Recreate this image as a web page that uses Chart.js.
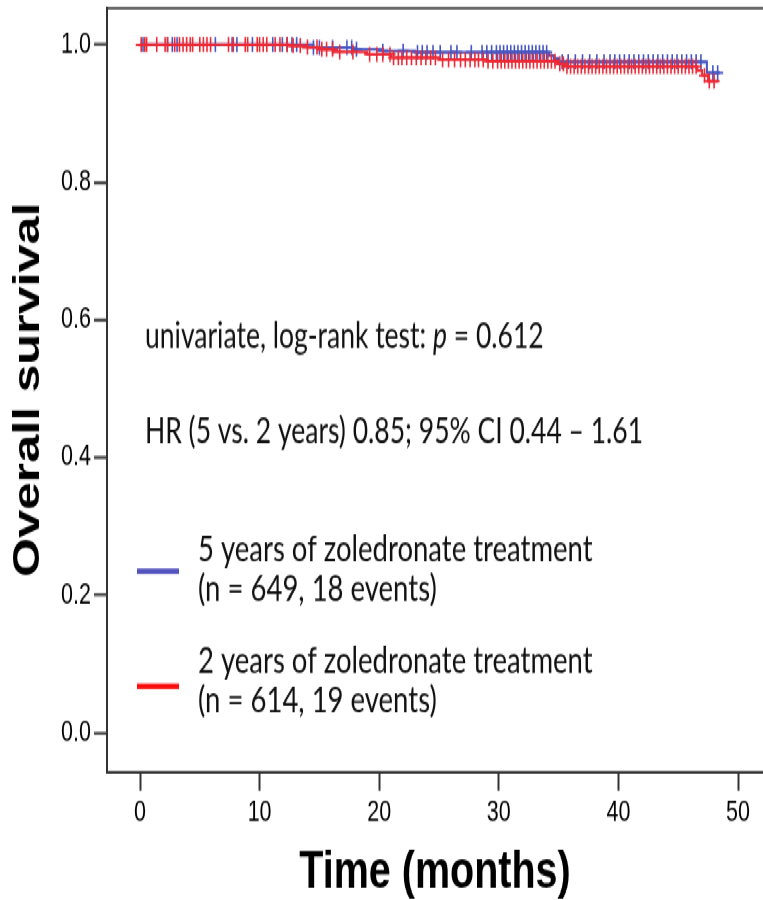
<!DOCTYPE html>
<html>
<head>
<meta charset="utf-8">
<script src="https://cdn.jsdelivr.net/npm/chart.js@4.4.1/dist/chart.umd.min.js"></script>
<style>
  html, body { margin: 0; padding: 0; background: #fff; overflow: hidden; }
  #wrap { position: absolute; left: 0; top: 0; width: 763px; height: 662px;
          transform: scaleY(1.3595); transform-origin: 0 0; background: #fff; }
</style>
</head>
<body>
<div id="wrap"><canvas id="c"></canvas></div>
<script>
// ---- data ----
// 5 years of zoledronate (blue): Kaplan-Meier step points
const blueTimes = [0, 14.5, 17.8, 20.3, 23.0, 34.2, 34.6, 35.0, 47.4, 48.5];
const blueSurv  = [1.0, 0.9955, 0.993, 0.991, 0.989, 0.984, 0.980, 0.975, 0.959, 0.959];
// 2 years of zoledronate (red)
const redTimes = [0, 12.5, 14.0, 15.0, 16.2, 19.0, 21.0, 25.0, 29.0, 34.9, 35.5, 46.6, 47.0, 47.5, 48.3];
const redSurv  = [1.0, 0.9985, 0.996, 0.993, 0.9895, 0.986, 0.981, 0.978, 0.976, 0.972, 0.968, 0.962, 0.955, 0.947, 0.947];
// censoring times (months)
const blueCensor = [0.25, 2.3, 2.7, 3.1, 6.3, 7.7, 8.1, 9.4, 11.1, 11.9, 12.3, 12.7, 13.1, 14.5, 15.0, 16.1, 17.3, 17.7, 18.1, 20.3, 22.0, 23.2,
  23.6, 24.0, 24.5, 25.1, 26.0, 26.5, 27.7, 28.6, 29.0, 29.4, 29.8, 30.1, 30.4, 30.7, 31.0, 31.3, 31.6, 31.9, 32.2, 32.5, 32.8, 33.1, 33.4, 33.7, 34.0,
  35.3, 35.8, 36.4, 37.0, 37.6, 38.2, 38.8, 39.3, 39.7, 40.1, 40.5, 40.9, 41.3, 41.7, 42.1, 42.5, 42.9, 43.3, 43.7, 44.1, 44.5, 44.9, 45.3, 45.7, 46.1, 46.5, 46.9, 47.9, 48.3];
const redCensor = [0.1, 0.4, 0.55, 1.4, 2.1, 2.3, 2.9, 3.3, 3.6, 3.9, 4.2, 4.4, 5.0, 5.3, 5.6, 5.9, 7.4, 7.8, 8.8, 9.0, 9.8, 10.0, 10.3, 10.6, 11.3, 11.7, 12.3, 12.8, 13.4, 14.0,
  14.8, 15.2, 15.6, 16.1, 16.7, 17.8, 19.2, 19.8, 20.3, 20.9, 21.2, 21.6, 21.9, 22.3, 22.7, 23.1, 23.5, 23.9,
  24.3, 24.7, 25.3, 25.8, 26.3, 26.8, 27.2, 27.6, 28.0, 28.3, 28.7, 29.1, 29.5, 29.9, 30.2, 30.5, 30.8, 31.1, 31.4, 31.7, 32.0, 32.3, 32.6, 32.9, 33.2, 33.5, 33.8, 34.1, 34.4, 34.7,
  35.1, 35.4, 35.7, 36.0, 36.3, 36.6, 36.9, 37.2, 37.5, 37.8, 38.1, 38.4, 38.7, 39.0, 39.3, 39.6, 39.9, 40.2, 40.5, 40.8, 41.1, 41.4, 41.7, 42.0, 42.3, 42.6, 42.9, 43.2, 43.5, 43.8,
  44.1, 44.4, 44.7, 45.0, 45.3, 45.6, 45.9, 46.2, 46.5, 47.2, 47.6, 48.0];
const xTicks = [0, 10, 20, 30, 40, 50];
const yTicks = [0.0, 0.2, 0.4, 0.6, 0.8, 1.0];
const seriesLabels = ['5 years of zoledronate treatment', '2 years of zoledronate treatment'];
const seriesNotes = ['(n = 649, 18 events)', '(n = 614, 19 events)'];
const statLine1 = ['univariate, log-rank test: ', 'p', ' = 0.612'];
const statLine2 = 'HR (5 vs. 2 years) 0.85; 95% CI 0.44 \u2013 1.61';

const BLUE = '#4555C2';
const RED = '#EC2A36';
const BLUE_KEY = '#5353BE';
const RED_KEY = '#FA0A0A';

function survAt(times, surv, t) {
  let s = surv[0];
  for (let i = 0; i < times.length; i++) { if (times[i] <= t) s = surv[i]; }
  return s;
}
const pts = (times, surv) => times.map((t, i) => ({ x: t, y: surv[i] }));
const cens = (ct, times, surv) => ct.map(t => ({ x: t, y: survAt(times, surv, t) }));
const noPad = s => { s.paddingTop = 0; s.paddingBottom = 0; s.paddingLeft = 0; s.paddingRight = 0; };

const textPlugin = {
  id: 'texts',
  afterDraw(chart) {
    const ctx = chart.ctx;
    ctx.save();
    ctx.fillStyle = '#111';
    ctx.textBaseline = 'alphabetic';
    ctx.textAlign = 'left';
    const f = '26.5px Lato, "Open Sans", sans-serif';
    const fi = 'italic 26.5px Lato, "Open Sans", sans-serif';
    let x = 145;
    ctx.font = f; ctx.fillText(statLine1[0], x, 256); x += ctx.measureText(statLine1[0]).width;
    ctx.font = fi; ctx.fillText(statLine1[1], x, 256); x += ctx.measureText(statLine1[1]).width;
    ctx.font = f; ctx.fillText(statLine1[2], x, 256);
    ctx.fillText(statLine2, 145, 326);
    // legend
    const keys = [[BLUE_KEY, 420.2, 413, 441.5], [RED_KEY, 504.8, 495, 523.5]];
    keys.forEach((k, i) => {
      ctx.fillStyle = k[0];
      ctx.fillRect(137, k[1] - 2, 42, 4);
      ctx.fillStyle = '#111';
      ctx.font = '27.5px Lato, "Open Sans", sans-serif';
      ctx.fillText(seriesLabels[i], 198, k[2]);
      ctx.fillText(seriesNotes[i], 198, k[3]);
    });
    ctx.restore();
  }
};

const tickFont = { family: '"Liberation Sans", Arial, sans-serif', size: 21.5 };

new Chart(document.getElementById('c'), {
  data: {
    datasets: [
      { type: 'scatter', data: cens(redCensor, redTimes, redSurv), pointStyle: 'cross', pointRadius: 5.5,
        borderColor: RED, pointBorderColor: RED, pointBorderWidth: 1.6, xAxisID: 'x', yAxisID: 'y' },
      { type: 'line', data: pts(redTimes, redSurv), stepped: true, borderColor: RED, borderWidth: 2,
        pointRadius: 0, fill: false, xAxisID: 'x', yAxisID: 'y' },
      { type: 'scatter', data: cens(blueCensor, blueTimes, blueSurv), pointStyle: 'cross', pointRadius: 5.5,
        borderColor: BLUE, pointBorderColor: BLUE, pointBorderWidth: 1.6, xAxisID: 'x', yAxisID: 'y' },
      { type: 'line', data: pts(blueTimes, blueSurv), stepped: true, borderColor: BLUE, borderWidth: 2,
        pointRadius: 0, fill: false, xAxisID: 'x', yAxisID: 'y' }
    ]
  },
  options: {
    responsive: true,
    maintainAspectRatio: false,
    animation: false,
    events: [],
    layout: { autoPadding: false, padding: { top: 6, right: 0, bottom: 0, left: 0 } },
    plugins: { legend: { display: false }, tooltip: { enabled: false } },
    scales: {
      x: {
        type: 'linear', position: 'bottom', min: -2.76, max: 52.09,
        afterBuildTicks: s => { s.ticks = xTicks.map(v => ({ value: v })); },
        ticks: { font: tickFont, color: '#000', padding: 4, maxRotation: 0, autoSkip: false },
        grid: { display: true, drawOnChartArea: false, drawTicks: true, tickLength: 14, tickWidth: 2, tickColor: '#333' },
        border: { display: true, color: '#333', width: 2 },
        title: { display: true, text: 'Time (months)', color: '#000',
                 font: { family: '"Liberation Sans", Arial, sans-serif', size: 39.5, weight: 'bold', lineHeight: 1 },
                 padding: { top: 0, bottom: 0 } },
        afterFit: s => { s.height = 94.4; noPad(s); }
      },
      x2: {
        type: 'linear', position: 'top', min: -2.76, max: 52.09,
        ticks: { display: false },
        grid: { display: true, drawOnChartArea: false, drawTicks: false },
        border: { display: true, color: '#6a6a6a', width: 2 },
        afterFit: s => { s.height = 0; noPad(s); }
      },
      y: {
        type: 'linear', position: 'left', min: -0.0565, max: 1.053,
        afterBuildTicks: s => { s.ticks = yTicks.map(v => ({ value: v })); },
        ticks: { font: tickFont, color: '#000', padding: 3, callback: v => Number(v).toFixed(1) },
        grid: { display: true, drawOnChartArea: false, drawTicks: true, tickLength: 13, tickWidth: 2, tickColor: '#333' },
        border: { display: true, color: '#333', width: 2 },
        title: { display: true, text: 'Overall survival', color: '#000',
                 font: { family: '"Liberation Sans", Arial, sans-serif', size: 37, weight: 'bold', lineHeight: 1 },
                 padding: { top: 10, bottom: 0 } },
        afterFit: s => { s.width = 107; noPad(s); }
      }
    }
  },
  plugins: [textPlugin]
});
</script>
</body>
</html>
